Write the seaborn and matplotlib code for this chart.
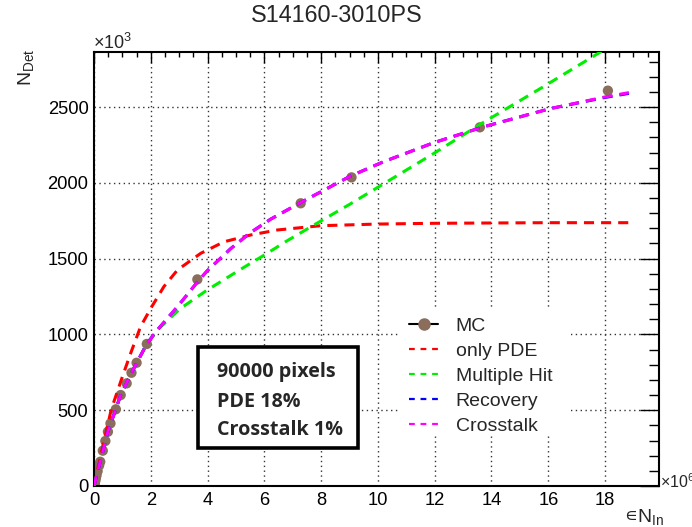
import numpy as np
import pandas as pd
import matplotlib
matplotlib.use("Agg")
import matplotlib.pyplot as plt
from matplotlib.lines import Line2D
from matplotlib.patches import Rectangle
from matplotlib.ticker import MultipleLocator
import seaborn as sns

# ---------------- data (x in units of 10^6, y in units of 10^3) ----------------
mc_x = [0.009, 0.018, 0.027, 0.036, 0.045, 0.064, 0.09, 0.127, 0.18, 0.22, 0.31, 0.40,
        0.49, 0.58, 0.77, 0.94, 1.15, 1.32, 1.50, 1.86, 3.64, 7.28, 9.07, 13.59, 18.1]
mc_y = [7, 14, 21, 28, 35, 50, 70, 98, 135, 160, 233, 297,
        358, 413, 506, 600, 677, 747, 813, 937, 1363, 1865, 2036, 2366, 2608]

pde_x = [0, 0.3, 0.61, 1.0, 1.29, 1.64, 2.0, 2.46, 2.94, 3.76, 4.58, 5.52, 6.46,
         7.98, 9.98, 11.97, 15.96, 18.84]
pde_y = [0, 255, 506, 721, 875, 1051, 1172, 1315, 1425, 1535, 1611, 1656, 1689,
         1717, 1728, 1733, 1737, 1737]

mh_x = [0, 0.22, 0.49, 0.94, 1.32, 1.86, 2.23, 3.05, 3.99, 5.17, 6.1, 6.75, 7.75,
        9.04, 11.97, 13.62, 15.73, 17.9]
mh_y = [0, 160, 358, 600, 747, 937, 1029, 1172, 1293, 1430, 1535, 1612, 1722,
        1862, 2194, 2388, 2623, 2870]

rec_x = [0, 0.22, 0.49, 0.94, 1.32, 1.86, 2.23, 2.94, 3.64, 3.99, 4.81, 5.5, 6.22,
         7.28, 9.04, 10.21, 11.97, 13.73, 16.08, 17.96, 18.84]
rec_y = [0, 160, 358, 600, 747, 937, 1029, 1183, 1345, 1420, 1565, 1670, 1760,
         1870, 2045, 2140, 2265, 2370, 2490, 2562, 2590]

ct_x = [0, 0.22, 0.49, 0.94, 1.32, 1.86, 2.23, 2.94, 3.64, 3.99, 4.81, 5.5, 6.22,
        7.28, 9.04, 10.21, 11.97, 13.73, 16.08, 17.96, 18.84]
ct_y = [0, 160, 358, 600, 747, 937, 1029, 1183, 1345, 1420, 1565, 1670, 1760,
        1870, 2045, 2140, 2265, 2370, 2490, 2565, 2595]

labels = ["MC", "only PDE", "Multiple Hit", "Recovery", "Crosstalk"]
info_lines = ["90000 pixels", "PDE 18%", "Crosstalk 1%"]
title = "S14160-3010PS"

# ---------------- style ----------------
sns.set_style("white")
plt.rcParams["font.family"] = ["Liberation Sans", "DejaVu Sans"]
plt.rcParams["mathtext.fontset"] = "custom"
plt.rcParams["mathtext.rm"] = "Liberation Sans"
plt.rcParams["mathtext.it"] = "Liberation Sans"
plt.rcParams["mathtext.default"] = "regular"

W, H = 692, 527
fig = plt.figure(figsize=(W / 100, H / 100), dpi=100)
L, R, T, B = 94, 659, 52, 486
ax = fig.add_axes([L / W, 1 - B / H, (R - L) / W, (B - T) / H])

brown = "#8b6d5c"
lw = 2.2
dash = (3.3, 2.3)

curves = [
    (pde_x, pde_y, "#ff0000", labels[1]),
    (mh_x, mh_y, "#00ee00", labels[2]),
    (rec_x, rec_y, "#0000ff", labels[3]),
    (ct_x, ct_y, "#ff00ff", labels[4]),
]
for xs, ys, col, lab in curves:
    df = pd.DataFrame({"x": xs, "y": ys})
    sns.lineplot(data=df, x="x", y="y", ax=ax, color=col, lw=lw, sort=False,
                 estimator=None, dashes=False, legend=False, zorder=3)
    ax.lines[-1].set_dashes(dash)

mc_df = pd.DataFrame({"x": mc_x, "y": mc_y})
sns.scatterplot(data=mc_df, x="x", y="y", ax=ax, color=brown, s=55,
                edgecolor="none", zorder=2, legend=False)

ax.set_xlim(0, 19.9)
ax.set_ylim(0, 2863)
ax.xaxis.set_major_locator(MultipleLocator(2))
ax.xaxis.set_minor_locator(MultipleLocator(0.5))
ax.yaxis.set_major_locator(MultipleLocator(500))
ax.yaxis.set_minor_locator(MultipleLocator(100))
ax.set_xlabel("")
ax.set_ylabel("")

for s in ax.spines.values():
    s.set_linewidth(1.5)
    s.set_color("black")
ax.tick_params(which="both", direction="in", top=True, right=True,
               colors="black", labelsize=13.2, width=1)
ax.tick_params(axis="y", which="major", length=13.7, pad=4)
ax.tick_params(axis="y", which="minor", length=7)
ax.tick_params(axis="x", which="major", length=8, pad=4)
ax.tick_params(axis="x", which="minor", length=3.6)
ax.grid(which="major", linestyle=(0, (1, 2.5)), color="#333333", lw=1)
ax.set_axisbelow(True)

# title and axis labels
fig.text(336.7 / W, 1 - 15 / H, title, ha="center", va="center", fontsize=16.8)
fig.text(26 / W, 1 - 49 / H, r"N$_{\rm Det}$", rotation=90, ha="center", va="top",
         fontsize=14)
fig.text(637 / W, 1 - 516 / H, "\u220a", ha="right", va="center", fontsize=13,
         family=["DejaVu Sans"])
fig.text(637 / W, 1 - 517 / H, "N$_{\\rm In}$", ha="left", va="center",
         fontsize=14)
fig.text(93 / W, 1 - 43 / H, "\u00d710$^{3}$", ha="left", va="center", fontsize=13)
fig.text(660 / W, 1 - 482 / H, "\u00d710$^{6}$", ha="left", va="center", fontsize=11.5)

# info box
rect = Rectangle((198 / W, 1 - 448 / H), 160 / W, 101 / H, transform=fig.transFigure,
                 facecolor="white", edgecolor="black", lw=2.6, zorder=5)
fig.add_artist(rect)
for i, (txt, yy) in enumerate(zip(info_lines, [372, 402, 430])):
    fig.text(217 / W, 1 - yy / H, txt, ha="left", va="center", fontsize=14.2,
             fontweight="bold", family=["Open Sans", "DejaVu Sans"], zorder=6)

# legend background (white, no border) hiding the grid
leg_bg = Rectangle((400 / W, 1 - 436 / H), 171 / W, 126 / H, transform=fig.transFigure,
                   facecolor="white", edgecolor="none", zorder=4)
fig.add_artist(leg_bg)

handles = [Line2D([], [], color="black", lw=1.5, marker="o", markersize=8,
                  markerfacecolor=brown, markeredgecolor=brown)]
for xs, ys, col, lab in curves:
    handles.append(Line2D([], [], color=col, lw=1.6, dashes=(2.6, 2.6)))
leg = fig.legend(handles, labels, loc="upper left",
                 bbox_to_anchor=(409 / W, 1 - 317 / H), frameon=False,
                 fontsize=14, handlelength=1.5, handletextpad=0.9,
                 labelspacing=0.385, borderpad=0, borderaxespad=0)
leg.set_zorder(6)

fig.savefig("out.png", dpi=100)
